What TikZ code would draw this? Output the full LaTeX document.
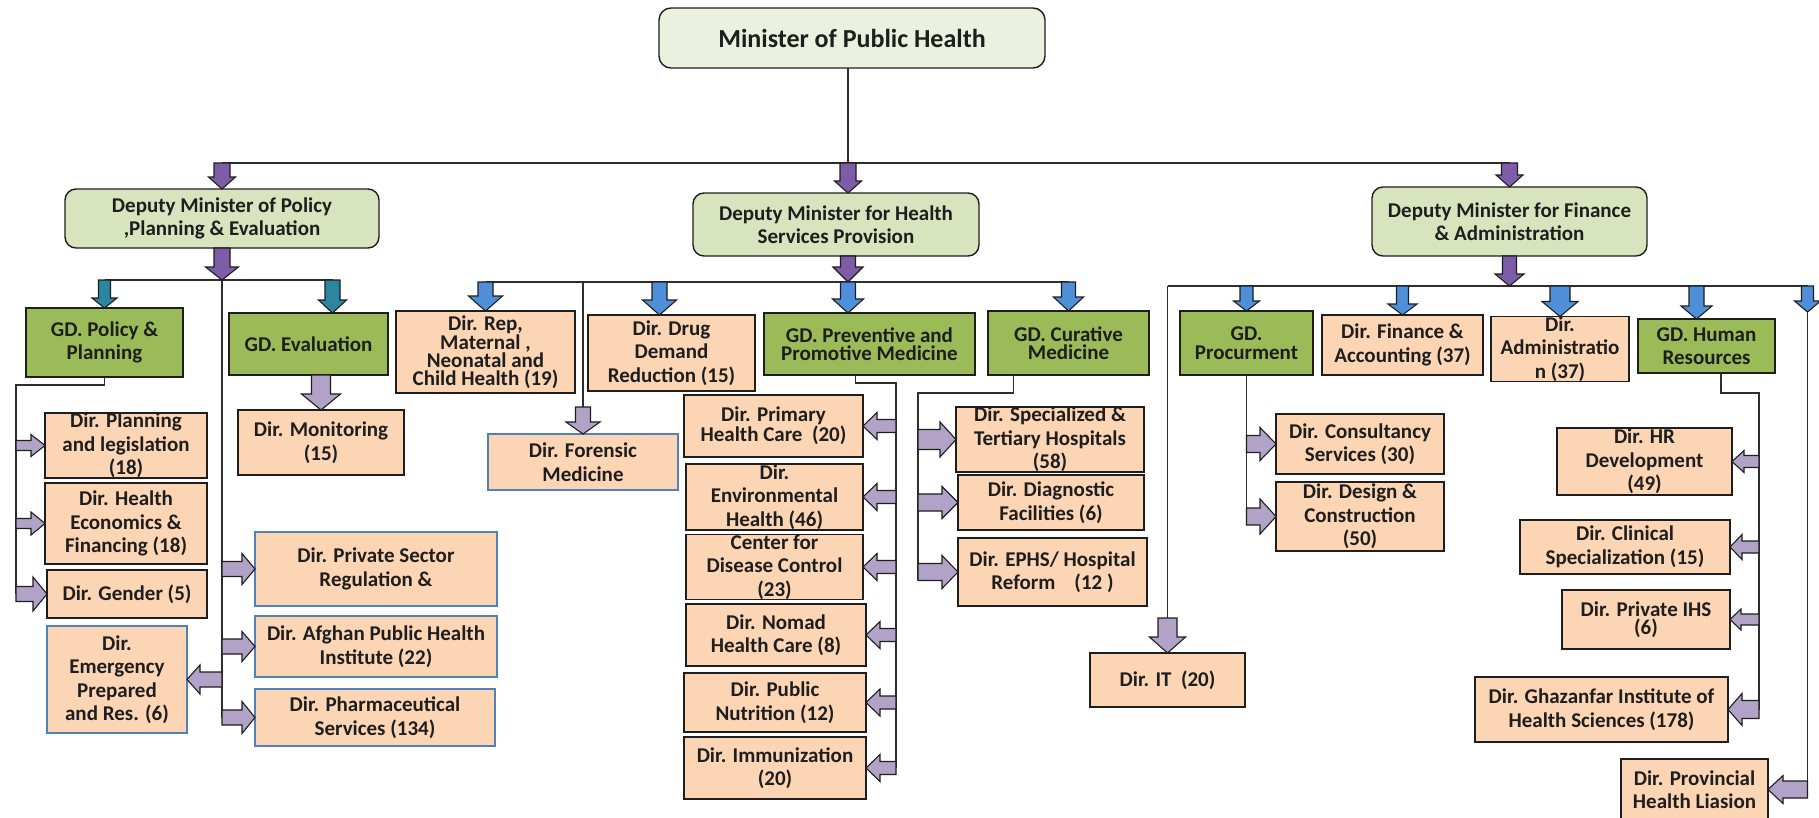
\documentclass[tikz,border=0pt]{standalone}
\usepackage{fontspec}
\setmainfont{Carlito}
\usetikzlibrary{calc}

\definecolor{minfill}{HTML}{EBF1DE}
\definecolor{dmfill}{HTML}{D7E4BD}
\definecolor{gdfill}{HTML}{9BBB59}
\definecolor{dirfill}{HTML}{FCD5B5}
\definecolor{blueedge}{HTML}{4F81BD}
\definecolor{ink}{HTML}{1E1E1E}
\definecolor{linegray}{HTML}{2E2E2E}
\definecolor{purpdark}{HTML}{7E5DA8}
\definecolor{purplight}{HTML}{B3A2C7}
\definecolor{tealarr}{HTML}{2C86A0}
\definecolor{bluearr}{HTML}{4F8FDA}

\tikzset{
  base/.style={draw=ink, line width=1.4pt, inner sep=0pt, outer sep=0pt,
    align=center, text=ink, font=\bfseries\fontsize{21}{23.5}\selectfont},
  minbox/.style={base, fill=minfill, rounded corners=12pt,
    font=\bfseries\fontsize{26}{30}\selectfont},
  dmbox/.style={base, fill=dmfill, rounded corners=11pt},
  gdbox/.style={base, fill=gdfill},
  dirbox/.style={base, fill=dirfill},
  bluebox/.style={dirbox, draw=blueedge},
  tight/.style={font=\bfseries\fontsize{21}{18.5}\selectfont},
  tighter/.style={font=\bfseries\fontsize{21}{18}\selectfont},
  link/.style={draw=linegray, line width=1.8pt},
  arrowline/.style={draw=ink, line width=1.1pt, line join=miter},
}

% box from its corners (x1,y1)-(x2,y2), y counted downwards
\newcommand{\bx}[7][]{%
  \node[#1, minimum width={(#5-#3)*1pt}, minimum height={(#6-#4)*1pt}]
    (#2) at ({(#3+#5)/2},{(#4+#6)/2}) {#7};}

% block arrow: fill, tail, tip, shaft width, head width, head length
\newcommand{\barrow}[6]{%
  \coordinate (bT) at (#2);
  \coordinate (bH) at (#3);
  \coordinate (bN) at ($(bH)!#6pt!(bT)$);
  \filldraw[arrowline, fill=#1] (bH)
    -- ($(bN)!0.5*#5pt!90:(bH)$)
    -- ($(bN)!0.5*#4pt!90:(bH)$)
    -- ($(bT)!0.5*#4pt!90:(bH)$)
    -- ($(bT)!0.5*#4pt!-90:(bH)$)
    -- ($(bN)!0.5*#4pt!-90:(bH)$)
    -- ($(bN)!0.5*#5pt!-90:(bH)$)
    -- cycle;}

\begin{document}
\begin{tikzpicture}[x=1pt, y=-1pt]
\clip (0,0) rectangle (1819,817);
\fill[white] (0,0) rectangle (1819,817);

% ---------- top levels ----------
\bx[minbox]{min}{659}{8}{1045}{68}{Minister of Public Health}
\bx[dmbox]{dm1}{65}{189}{379}{248}{Deputy Minister of Policy\\,Planning \& Evaluation}
\bx[dmbox]{dm2}{693}{193}{979}{256}{Deputy Minister for Health\\Services Provision}
\bx[dmbox]{dm3}{1372}{187}{1647}{256}{Deputy Minister for Finance\\\& Administration}

% ---------- policy, planning & evaluation ----------
\bx[gdbox]{gdpp}{26}{308}{183}{377}{GD. Policy \&\\Planning}
\bx[gdbox]{gdev}{229}{313}{388}{375}{GD. Evaluation}
\bx[dirbox]{mon}{238}{410}{404}{475}{Dir. Monitoring\\(15)}
\bx[dirbox]{plan}{45}{414}{207}{477}{Dir. Planning\\and legislation\\(18)}
\bx[dirbox]{heco}{45}{483}{207}{564}{Dir. Health\\Economics \&\\Financing (18)}
\bx[dirbox]{gender}{47}{570}{207}{618}{Dir. Gender (5)}
\bx[bluebox]{emerg}{47}{626}{187}{733}{Dir.\\Emergency\\Prepared\\and Res. (6)}
\bx[bluebox]{priv}{255}{532}{497}{606}{Dir. Private Sector\\Regulation \&}
\bx[bluebox]{afghan}{255}{616}{497}{677}{Dir. Afghan Public Health\\Institute (22)}
\bx[bluebox]{pharma}{255}{689}{495}{746}{Dir. Pharmaceutical\\Services (134)}

% ---------- health services provision ----------
\bx[dirbox,tighter]{rep}{396}{311}{575}{393}{Dir. Rep,\\Maternal ,\\Neonatal and\\Child Health (19)}
\bx[bluebox]{forensic}{488}{434}{678}{490}{Dir. Forensic\\Medicine}
\bx[dirbox]{drug}{588}{315}{755}{391}{Dir. Drug\\Demand\\Reduction (15)}
\bx[gdbox,tight]{gdprev}{764}{313}{975}{375}{GD. Preventive and\\Promotive Medicine}
\bx[gdbox,tight]{gdcur}{988}{311}{1149}{375}{GD. Curative\\Medicine}
\bx[dirbox,tight]{prim}{684}{395}{863}{457}{Dir. Primary\\Health Care~~(20)}
\bx[dirbox]{env}{686}{464}{863}{530}{Dir.\\Environmental\\Health (46)}
\bx[dirbox]{cdc}{686}{536}{863}{598}{Center for\\Disease Control\\(23)}
\bx[dirbox]{nomad}{686}{604}{866}{666}{Dir. Nomad\\Health Care (8)}
\bx[dirbox]{nutr}{684}{673}{866}{732}{Dir. Public\\Nutrition (12)}
\bx[dirbox]{immu}{684}{737}{866}{799}{Dir. Immunization\\(20)}
\bx[dirbox]{spec}{956}{408}{1144}{471}{Dir. Specialized \&\\Tertiary Hospitals\\(58)}
\bx[dirbox]{diag}{958}{475}{1144}{530}{Dir. Diagnostic\\Facilities (6)}
\bx[dirbox]{ephs}{958}{538}{1147}{606}{Dir. EPHS/ Hospital\\Reform~~~~(12 )}

% ---------- finance & administration ----------
\bx[gdbox,tight]{gdproc}{1180}{311}{1313}{375}{GD.\\Procurment}
\bx[dirbox]{fin}{1322}{315}{1483}{375}{Dir. Finance \&\\Accounting (37)}
\bx[dirbox]{adm}{1491}{319}{1629}{379}{Dir.\\Administratio\\n (37)}
\bx[gdbox]{gdhr}{1638}{319}{1775}{373}{GD. Human\\Resources}
\bx[dirbox]{cons}{1276}{414}{1444}{474}{Dir. Consultancy\\Services (30)}
\bx[dirbox]{design}{1276}{482}{1444}{551}{Dir. Design \&\\Construction\\(50)}
\bx[dirbox]{it}{1090}{653}{1245}{707}{Dir. IT~~(20)}
\bx[dirbox]{hrdev}{1557}{428}{1732}{495}{Dir. HR\\Development\\(49)}
\bx[dirbox]{clin}{1520}{520}{1730}{574}{Dir. Clinical\\Specialization (15)}
\bx[dirbox,tighter]{pihs}{1562}{590}{1730}{649}{Dir. Private IHS\\(6)}
\bx[dirbox]{ghaz}{1475}{677}{1728}{742}{Dir. Ghazanfar Institute of\\Health Sciences (178)}
\bx[dirbox]{prov}{1621}{759}{1768}{820}{Dir. Provincial\\Health Liasion}

% ---------- minister to deputies ----------
\coordinate (spine) at (848,163);
\draw[link] (spine |- min.south) -- (spine);
\draw[link] (dm1.north |- spine) -- (dm3.north |- spine);
\barrow{purpdark}{dm1.north |- spine}{dm1.north}{16}{27}{12}
\barrow{purpdark}{spine}{spine |- dm2.north}{16}{27}{12}
\barrow{purpdark}{dm3.north |- spine}{dm3.north}{16}{27}{12}

% ---------- deputy 1 branch ----------
\coordinate (b1) at ($(dm1.south)+(0,32)$);
\coordinate (b1r) at ($(gdev.north |- b1)+(24,0)$);
\draw[link] (gdpp.north |- b1) -- (b1r);
\draw[link] (b1) -- (b1 |- pharma.west);
\barrow{purpdark}{dm1.south}{b1}{16}{33}{13}
\barrow{tealarr}{gdpp.north |- b1}{gdpp.north}{12}{25}{10}
\barrow{tealarr}{b1r}{b1r |- gdev.north}{15}{28}{13}
\barrow{purplight}{gdev.south -| mon.north}{mon.north}{19}{39}{16}
\barrow{purplight}{b1 |- priv.west}{priv.west}{15}{31}{13}
\barrow{purplight}{b1 |- afghan.west}{afghan.west}{15}{30}{13}
\barrow{purplight}{b1 |- emerg.east}{emerg.east}{15}{29}{13}
\barrow{purplight}{b1 |- pharma.west}{pharma.west}{15}{32}{13}

\coordinate (lb) at (16,385);
\draw[link] (gdpp.south) |- (lb) -- (lb |- gender.west);
\barrow{purplight}{lb |- plan.west}{plan.west}{10}{22}{14}
\barrow{purplight}{lb |- heco.west}{heco.west}{10}{23}{14}
\barrow{purplight}{lb |- gender.west}{gender.west}{15}{34}{14}

% ---------- deputy 2 branch ----------
\coordinate (b2) at ($(spine |- dm2.south)+(0,26)$);
\draw[link] (rep.north |- b2) -- (gdcur.north |- b2);
\barrow{purpdark}{spine |- dm2.south}{b2}{15}{30}{15}
\barrow{bluearr}{rep.north |- b2}{rep.north}{15}{34}{15}
\coordinate (dz) at ($(drug.north)+(-12,0)$);
\barrow{bluearr}{dz |- b2}{dz}{15}{34}{15}
\barrow{bluearr}{b2}{b2 |- gdprev.north}{15}{31}{14}
\barrow{bluearr}{gdcur.north |- b2}{gdcur.north}{14}{30}{14}
\coordinate (fz) at ($(forensic.north)+(0,-27)$);
\draw[link] (fz |- b2) -- (fz);
\barrow{purplight}{fz}{forensic.north}{15}{34}{12}

\coordinate (pv) at (896,383);
\draw[link] ($(gdprev.south)+(-14,0)$) |- (pv) -- (pv |- immu.east);
\foreach \b in {prim,env,cdc,nomad,nutr,immu}
  {\barrow{purplight}{pv |- \b.east}{\b.east}{13}{27}{14}}

\coordinate (cv) at (918,393);
\draw[link] ($(gdcur.south)+(-55,0)$) |- (cv) -- ($(cv |- ephs.west)+(0,8)$);
\barrow{purplight}{cv |- spec.west}{spec.west}{20}{35}{16}
\barrow{purplight}{cv |- diag.west}{diag.west}{17}{32}{16}
\barrow{purplight}{cv |- ephs.west}{ephs.west}{17}{33}{16}

% ---------- deputy 3 branch ----------
\coordinate (b3) at ($(dm3.south)+(0,30)$);
\coordinate (b3l) at (it.north |- b3);
\coordinate (b3r) at ($(b3)+(298,0)$);
\draw[link] (b3l) -- (b3r);
\barrow{purpdark}{dm3.south}{b3}{14}{29}{12}
\coordinate (itz) at ($(it.north)+(0,-35)$);
\draw[link] (b3l) -- (itz);
\barrow{purplight}{itz}{it.north}{19}{36}{16}
\barrow{bluearr}{gdproc.north |- b3}{gdproc.north}{13}{26}{10}
\barrow{bluearr}{fin.north |- b3}{fin.north}{12}{29}{11}
\barrow{bluearr}{adm.north |- b3}{adm.north}{20}{36}{15}
\coordinate (hz) at ($(gdhr.north)+(-10,0)$);
\barrow{bluearr}{hz |- b3}{hz}{15}{31}{13}
\coordinate (fr) at ($(b3r)+(0,26)$);
\barrow{bluearr}{b3r}{fr}{12}{26}{11}
\draw[link] (fr) -- ($(fr |- prov.east)+(0,6)$);
\barrow{purplight}{fr |- prov.east}{prov.east}{17}{28}{15}

\draw[link] (gdproc.south) -- (gdproc.south |- design.west) -- ++(0,4);
\barrow{purplight}{gdproc.south |- cons.west}{cons.west}{17}{33}{16}
\barrow{purplight}{gdproc.south |- design.west}{design.west}{17}{35}{16}

\coordinate (hv) at (1759,393);
\draw[link] ($(gdhr.south)+(14.5,0)$) |- (hv) -- (hv |- ghaz.east);
\barrow{purplight}{hv |- hrdev.east}{hrdev.east}{12}{22}{12}
\barrow{purplight}{hv |- clin.east}{clin.east}{12}{25}{12}
\barrow{purplight}{hv |- pihs.east}{pihs.east}{11}{21}{11}
\barrow{purplight}{hv |- ghaz.east}{ghaz.east}{18}{32}{14}
\end{tikzpicture}
\end{document}
